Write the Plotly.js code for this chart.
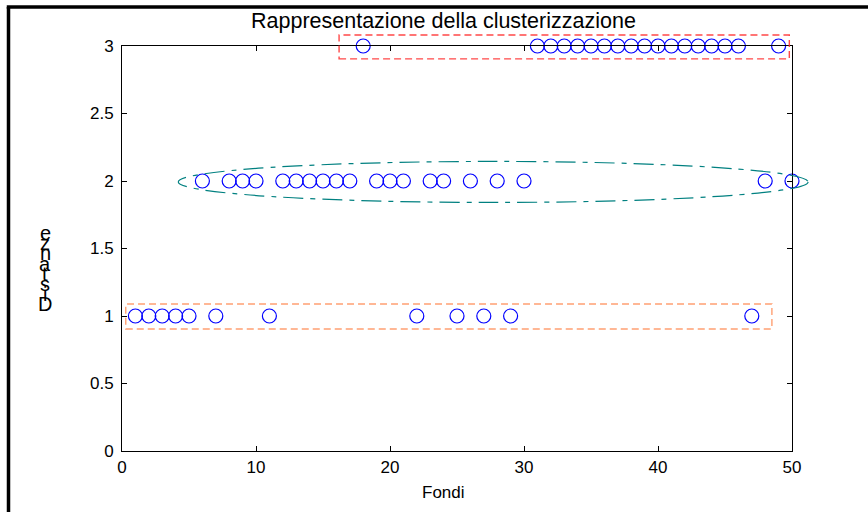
<!DOCTYPE html>
<html>
<head>
<meta charset="utf-8">
<script src="https://cdn.plot.ly/plotly-3.0.1.min.js"></script>
<style>
  html, body { margin: 0; padding: 0; background: #ffffff; }
  #chart { width: 868px; height: 512px; }
</style>
</head>
<body>
<div id="chart"></div>
<script>
// ---- Data ----
var fondi = [1,2,3,4,5,6,7,8,9,10,11,12,13,14,15,16,17,18,19,20,21,22,23,24,25,26,27,28,29,30,31,32,33,34,35,36,37,38,39,40,41,42,43,44,45,46,47,48,49,50];
var cluster = [1,1,1,1,1,2,1,2,2,2,1,2,2,2,2,2,2,3,2,2,2,1,2,2,1,2,1,2,1,2,3,3,3,3,3,3,3,3,3,3,3,3,3,3,3,3,1,2,3,2];
var xTicks = [0,10,20,30,40,50];
var yTicks = [0,0.5,1,1.5,2,2.5,3];
var yTickLabels = ['0','0.5','1','1.5','2','2.5','3'];
var titleText = 'Rappresentazione della clusterizzazione';
var xLabel = 'Fondi';
var yLabel = 'Distanze';

// ---- Layout helpers ----
var xRange = [0, 50];
var yRange = [0, 3];
function xp(v) { return (v - xRange[0]) / (xRange[1] - xRange[0]); }
function yp(v) { return (v - yRange[0]) / (yRange[1] - yRange[0]); }

var FONT = 'Liberation Sans, Arial, Helvetica, sans-serif';

var trace = {
  x: fondi,
  y: cluster,
  type: 'scatter',
  mode: 'markers',
  cliponaxis: false,
  marker: {
    symbol: 'circle-open',
    size: 14,
    color: 'rgb(0,0,255)',
    line: { width: 1.2, color: 'rgb(0,0,255)' }
  },
  hoverinfo: 'x+y',
  showlegend: false
};

var shapes = [
  // cluster 3 box (red dashed)
  { type: 'rect', xref: 'paper', yref: 'paper',
    x0: xp(16.2), x1: xp(49.8), y0: yp(2.905), y1: yp(3.082),
    line: { color: 'rgba(255,40,40,0.85)', width: 1.4, dash: '7px,4px' } },
  // cluster 1 box (orange dashed)
  { type: 'rect', xref: 'paper', yref: 'paper',
    x0: xp(0.28), x1: xp(48.5), y0: yp(0.904), y1: yp(1.089),
    line: { color: 'rgba(255,150,100,0.9)', width: 1.4, dash: '7px,4px' } },
  // cluster 2 ellipse (teal dash-dot)
  { type: 'circle', xref: 'paper', yref: 'paper',
    x0: xp(4.2), x1: xp(51.2), y0: yp(1.841), y1: yp(2.145),
    line: { color: 'rgb(0,128,128)', width: 1.2, dash: '20px,7px,5px,7px' } },
  // outer figure frame
  { type: 'line', xref: 'paper', yref: 'paper',
    x0: -0.1694, x1: -0.1694, y0: -0.2, y1: 1.0963,
    line: { color: '#000', width: 3.5 } },
  { type: 'line', xref: 'paper', yref: 'paper',
    x0: -0.1720, x1: 1.2, y0: 1.0963, y1: 1.0963,
    line: { color: '#000', width: 3.5 } }
];

var annotations = [
  { text: titleText, xref: 'paper', yref: 'paper', x: 0.48, y: 1.0617,
    xanchor: 'center', yanchor: 'middle', showarrow: false,
    font: { family: FONT, size: 21.5, color: '#000' } },
  { text: xLabel, xref: 'paper', yref: 'paper', x: 0.48, y: -0.1037,
    xanchor: 'center', yanchor: 'middle', showarrow: false,
    font: { family: FONT, size: 17, color: '#000' } }
];
// Y label rendered as stacked upright letters (bottom to top), as in the reference
var letters = yLabel.split('');
var topPx = 233, stepPx = 10.2;
for (var i = 0; i < letters.length; i++) {
  var ch = letters[letters.length - 1 - i];
  var py = topPx + i * stepPx;
  annotations.push({
    text: ch, xref: 'paper', yref: 'paper',
    x: (45 - 122) / 670, y: (451 - py) / 405,
    xanchor: 'center', yanchor: 'middle', showarrow: false,
    font: { family: FONT, size: 20, color: '#000' }
  });
}

var layout = {
  width: 868, height: 512,
  margin: { l: 122, r: 76, t: 46, b: 61, pad: 0 },
  paper_bgcolor: '#ffffff',
  plot_bgcolor: '#ffffff',
  font: { family: FONT, size: 16, color: '#000' },
  showlegend: false,
  xaxis: {
    range: xRange, tickvals: xTicks, ticktext: xTicks.map(String),
    ticks: 'inside', ticklen: 5, tickwidth: 1, tickcolor: '#000',
    showline: true, linecolor: '#000', linewidth: 1, mirror: 'ticks',
    showgrid: false, zeroline: false, ticklabelstandoff: 1,
    tickfont: { family: FONT, size: 17, color: '#000' }
  },
  yaxis: {
    range: yRange, tickvals: yTicks, ticktext: yTickLabels,
    ticks: 'inside', ticklen: 5, tickwidth: 1, tickcolor: '#000',
    showline: true, linecolor: '#000', linewidth: 1, mirror: 'ticks',
    showgrid: false, zeroline: false, ticklabelstandoff: 4,
    tickfont: { family: FONT, size: 17, color: '#000' }
  },
  shapes: shapes,
  annotations: annotations
};

Plotly.newPlot('chart', [trace], layout, { displayModeBar: false, staticPlot: true });
</script>
</body>
</html>
